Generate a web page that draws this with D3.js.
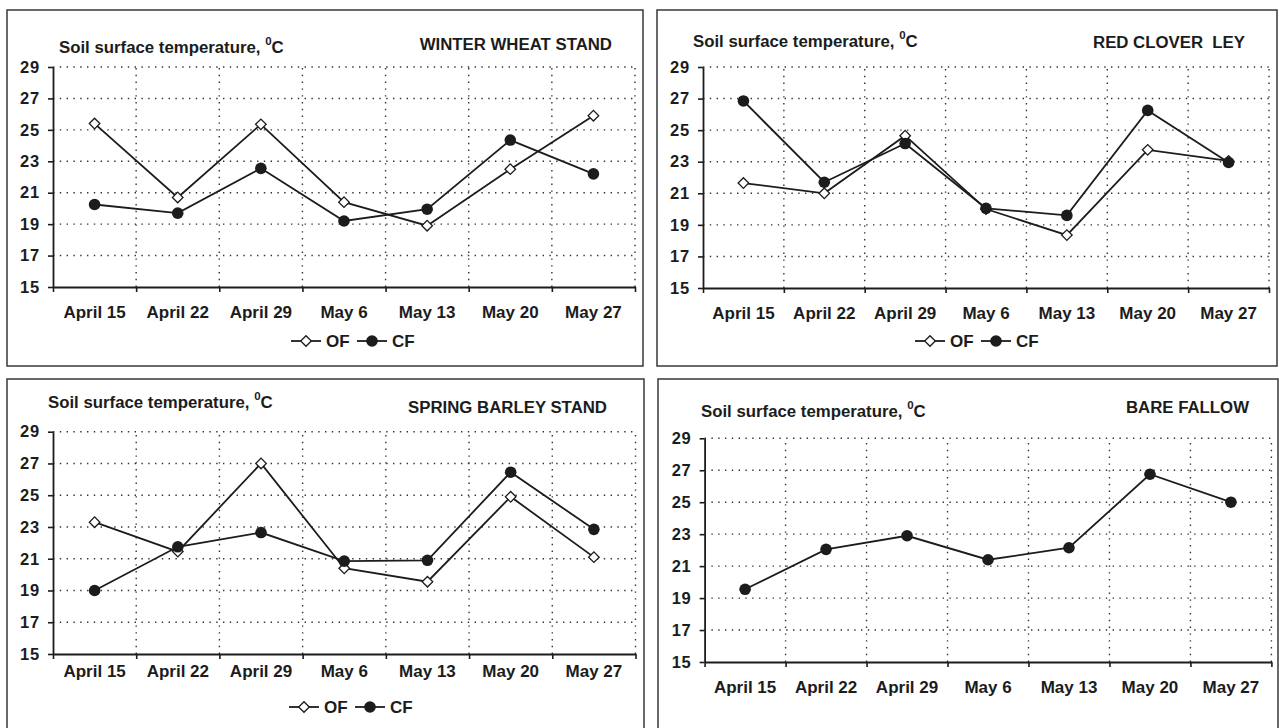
<!DOCTYPE html>
<html>
<head>
<meta charset="utf-8">
<script src="https://cdn.jsdelivr.net/npm/d3@7"></script>
<style>
  body { margin: 0; background: #fff; }
  svg text { font-family: "Liberation Sans", Arial, sans-serif; font-weight: bold; fill: #1c1c1c; white-space: pre; }
</style>
</head>
<body>
<svg id="chart" width="1279" height="728"></svg>
<script>
const categories = ['April 15', 'April 22', 'April 29', 'May 6', 'May 13', 'May 20', 'May 27'];
const yTicks = [15, 17, 19, 21, 23, 25, 27, 29];
const seriesNames = ['OF', 'CF'];

const wheatOF = [25.4, 20.7, 25.35, 20.4, 18.9, 22.5, 25.9];
const wheatCF = [20.25, 19.7, 22.55, 19.2, 19.95, 24.35, 22.2];
const cloverOF = [21.65, 21.0, 24.65, 20.0, 18.35, 23.75, 23.05];
const cloverCF = [26.85, 21.7, 24.15, 20.05, 19.6, 26.25, 22.95];
const barleyOF = [23.3, 21.45, 27.0, 20.4, 19.55, 24.9, 21.1];
const barleyCF = [19.0, 21.75, 22.65, 20.85, 20.9, 26.45, 22.85];
const fallowCF = [19.55, 22.05, 22.9, 21.4, 22.15, 26.75, 25.0];

const ink = '#1c1c1c';

// panel layout: frame box, plot area, text anchors
const panels = [
  { name: 'WINTER WHEAT STAND', frame: [7, 10, 643, 366], plot: [53, 635, 67, 287], labelGap: 31,
    soil: [59, 53], title: [612, 50], legend: [291, 341], of: wheatOF, cf: wheatCF },
  { name: 'RED CLOVER  LEY', frame: [657, 10, 1277, 366], plot: [703, 1269, 67, 288], labelGap: 31,
    soil: [693, 47], title: [1245, 48], legend: [915, 341], of: cloverOF, cf: cloverCF },
  { name: 'SPRING BARLEY STAND', frame: [7, 379, 644, 745], plot: [53, 635.5, 431.7, 654], labelGap: 23,
    soil: [48, 408], title: [607, 413], legend: [289, 707], of: barleyOF, cf: barleyCF },
  { name: 'BARE FALLOW', frame: [658, 379, 1278, 745], plot: [704.6, 1271.4, 438.3, 662], labelGap: 31,
    soil: [701, 417], title: [1249, 413], legend: null, of: null, cf: fallowCF }
];

const svg = d3.select('#chart');

function drawMarker(g, kind, x, y) {
  if (kind === 'OF') {
    g.append('path')
      .attr('d', d3.symbol().type(d3.symbolSquare).size(56)())
      .attr('transform', `translate(${x},${y}) rotate(45)`)
      .attr('fill', '#fff')
      .attr('stroke', ink)
      .attr('stroke-width', 1.3);
  } else {
    g.append('circle')
      .attr('cx', x).attr('cy', y).attr('r', 5.8)
      .attr('fill', ink);
  }
}

panels.forEach(p => {
  const [x0, x1, yTop, yBot] = p.plot;
  const g = svg.append('g');

  // frame
  g.append('rect')
    .attr('x', p.frame[0]).attr('y', p.frame[1])
    .attr('width', p.frame[2] - p.frame[0]).attr('height', p.frame[3] - p.frame[1])
    .attr('fill', 'none').attr('stroke', '#444').attr('stroke-width', 1.6);

  const xBand = d3.scaleBand().domain(categories).range([x0, x1]).padding(0);
  const xEdge = d3.scaleLinear().domain([0, categories.length]).range([x0, x1]);
  const y = d3.scaleLinear().domain([15, 29]).range([yBot, yTop]);
  const cx = c => xBand(c) + xBand.bandwidth() / 2;

  // dotted grid
  const grid = g.append('g')
    .attr('stroke', '#333').attr('stroke-width', 1.4).attr('stroke-dasharray', '1.4,5.4');
  grid.selectAll('.h').data(yTicks.filter(t => t > 15)).join('line')
    .attr('x1', x0).attr('x2', x1).attr('y1', d => y(d)).attr('y2', d => y(d));
  grid.selectAll('.v').data(d3.range(1, categories.length + 1)).join('line')
    .attr('x1', d => xEdge(d)).attr('x2', d => xEdge(d)).attr('y1', yBot).attr('y2', yTop);

  // y axis
  const yAxis = g.append('g')
    .attr('transform', `translate(${x0},0)`)
    .call(d3.axisLeft(y).tickValues(yTicks).tickSize(5).tickPadding(8).tickSizeOuter(0));
  yAxis.select('.domain').attr('stroke', ink).attr('stroke-width', 1.8);
  yAxis.selectAll('.tick line').attr('stroke', ink).attr('stroke-width', 1.6);
  yAxis.selectAll('.tick text')
    .attr('font-size', 16.5).attr('letter-spacing', 0.8)
    .attr('font-family', null).attr('fill', ink);

  // x axis: ticks at band edges
  const xAxis = g.append('g')
    .attr('transform', `translate(0,${yBot})`)
    .call(d3.axisBottom(xEdge).tickValues(d3.range(0, categories.length + 1)).tickSize(5).tickFormat('').tickSizeOuter(0));
  xAxis.select('.domain').attr('stroke', ink).attr('stroke-width', 1.8);
  xAxis.selectAll('.tick line').attr('stroke', ink).attr('stroke-width', 1.6);

  // category labels
  const labels = g.append('g')
    .attr('transform', `translate(0,${yBot})`)
    .call(d3.axisBottom(xBand).tickSize(0).tickPadding(0));
  labels.select('.domain').remove();
  labels.selectAll('.tick text')
    .attr('y', p.labelGap).attr('dy', 0)
    .attr('font-size', 17).attr('font-family', null).attr('fill', ink);

  // titles
  const soil = g.append('text')
    .attr('x', p.soil[0]).attr('y', p.soil[1])
    .attr('font-size', 16.8);
  soil.append('tspan').text('Soil surface temperature, ');
  soil.append('tspan').attr('font-size', 11.5).attr('dy', -8).text('0');
  soil.append('tspan').attr('dy', 8).text('C');

  g.append('text')
    .attr('x', p.title[0]).attr('y', p.title[1])
    .attr('text-anchor', 'end')
    .attr('font-size', 16.8)
    .text(p.name);

  // series
  const line = d3.line().x((d, i) => cx(categories[i])).y(d => y(d));
  [['OF', p.of], ['CF', p.cf]].forEach(([kind, vals]) => {
    if (!vals) return;
    g.append('path')
      .datum(vals)
      .attr('d', line)
      .attr('fill', 'none')
      .attr('stroke', ink)
      .attr('stroke-width', 1.8);
    vals.forEach((v, i) => drawMarker(g, kind, cx(categories[i]), y(v)));
  });

  // legend
  if (p.legend) {
    const [lx, ly] = p.legend;
    const lg = g.append('g').attr('transform', `translate(${lx},${ly})`);
    seriesNames.forEach((s, i) => {
      const ox = i * 66;
      lg.append('line')
        .attr('x1', ox).attr('x2', ox + 30).attr('y1', 0).attr('y2', 0)
        .attr('stroke', ink).attr('stroke-width', 1.8);
      drawMarker(lg, s, ox + 15, 0);
      lg.append('text')
        .attr('x', ox + 35).attr('y', 6)
        .attr('font-size', 17)
        .text(s);
    });
  }
});
</script>
</body>
</html>
